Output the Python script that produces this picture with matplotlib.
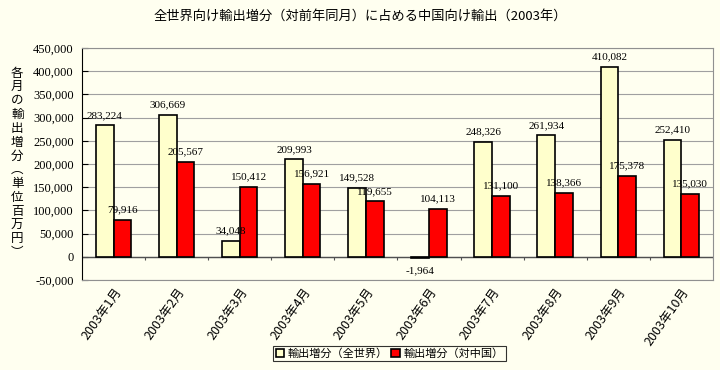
import numpy as np
import matplotlib
matplotlib.use('Agg')
import matplotlib.pyplot as plt
from matplotlib.ticker import FuncFormatter

plt.rcParams['font.family'] = ['Noto Sans CJK JP', 'DejaVu Sans']

# データ
months = ['2003年1月', '2003年2月', '2003年3月', '2003年4月', '2003年5月',
          '2003年6月', '2003年7月', '2003年8月', '2003年9月', '2003年10月']
world = [283224, 306669, 34048, 209993, 149528, -1964, 248326, 261934, 410082, 252410]
china = [79916, 205567, 150412, 156921, 119655, 104113, 131100, 138366, 175378, 135030]
series_names = ['輸出増分（全世界）', '輸出増分（対中国）']
title = '全世界向け輸出増分（対前年同月）に占める中国向け輸出（2003年）'
ylabel = '各月の輸出増分︵単位百万円︶'

bg = '#FFFFF0'
serif = ['Liberation Serif', 'DejaVu Serif']

fig = plt.figure(figsize=(7.2, 3.7), dpi=100, facecolor=bg)
ax = fig.add_axes([0.114, 0.243, 0.876, 0.627])
ax.set_facecolor(bg)

x = np.arange(len(months))
w = 0.28
b1 = ax.bar(x - w / 2, world, w, color='#FFFFCC', edgecolor='black', linewidth=1.2,
            label=series_names[0], zorder=3)
b2 = ax.bar(x + w / 2, china, w, color='#FF0000', edgecolor='black', linewidth=1.2,
            label=series_names[1], zorder=3)

# データラベル
for bars, vals in ((b1, world), (b2, china)):
    for rect, v in zip(bars, vals):
        cx = rect.get_x() + rect.get_width() / 2
        if v >= 0:
            ax.annotate(f'{v:,}', (cx, v), xytext=(0, 4), textcoords='offset points',
                        ha='center', va='bottom', fontsize=8, family=serif, zorder=4)
        else:
            ax.annotate(f'{v:,}', (cx, v), xytext=(0, -6), textcoords='offset points',
                        ha='center', va='top', fontsize=8, family=serif, zorder=4)

ax.set_ylim(-50000, 450000)
ax.set_xlim(-0.5, len(months) - 0.5)
ax.set_yticks(np.arange(-50000, 450001, 50000))
ax.yaxis.set_major_formatter(FuncFormatter(lambda v, p: f'{int(v):,}'))
for lbl in ax.get_yticklabels():
    lbl.set_family(serif)
    lbl.set_fontsize(9)
ax.tick_params(axis='y', direction='in', length=4, pad=6, colors='black')
ax.grid(axis='y', color='#A0A0A0', linewidth=0.8, zorder=0)

ax.set_xticks(x)
ax.set_xticklabels(months, rotation=55, ha='right', rotation_mode='anchor', fontsize=9)
ax.tick_params(axis='x', length=0, pad=4)

# ゼロ線と区切り目盛
ax.axhline(0, color='#505050', linewidth=1, zorder=2)
ax.vlines(np.arange(len(months) + 1) - 0.5, -7000, 0, color='#505050', linewidth=0.8, zorder=2)

for s in ('top', 'right', 'bottom'):
    ax.spines[s].set_color('#909090')
ax.spines['left'].set_color('black')

fig.text(0.5, 0.955, title, ha='center', va='center', fontsize=9.5)
fig.text(0.024, 0.56, '\n'.join(ylabel), ha='center', va='center', fontsize=9,
         linespacing=1.08)

leg = fig.legend(loc='center', bbox_to_anchor=(0.541, 0.045), ncol=2, fontsize=8,
                 frameon=True, fancybox=False, edgecolor='black', handlelength=0.8,
                 handleheight=0.8, handletextpad=0.3, columnspacing=0.3,
                 borderpad=0.2, borderaxespad=0)
leg.get_frame().set_facecolor(bg)
leg.get_frame().set_linewidth(0.8)

fig.savefig('out.png', dpi=100, facecolor=bg)
